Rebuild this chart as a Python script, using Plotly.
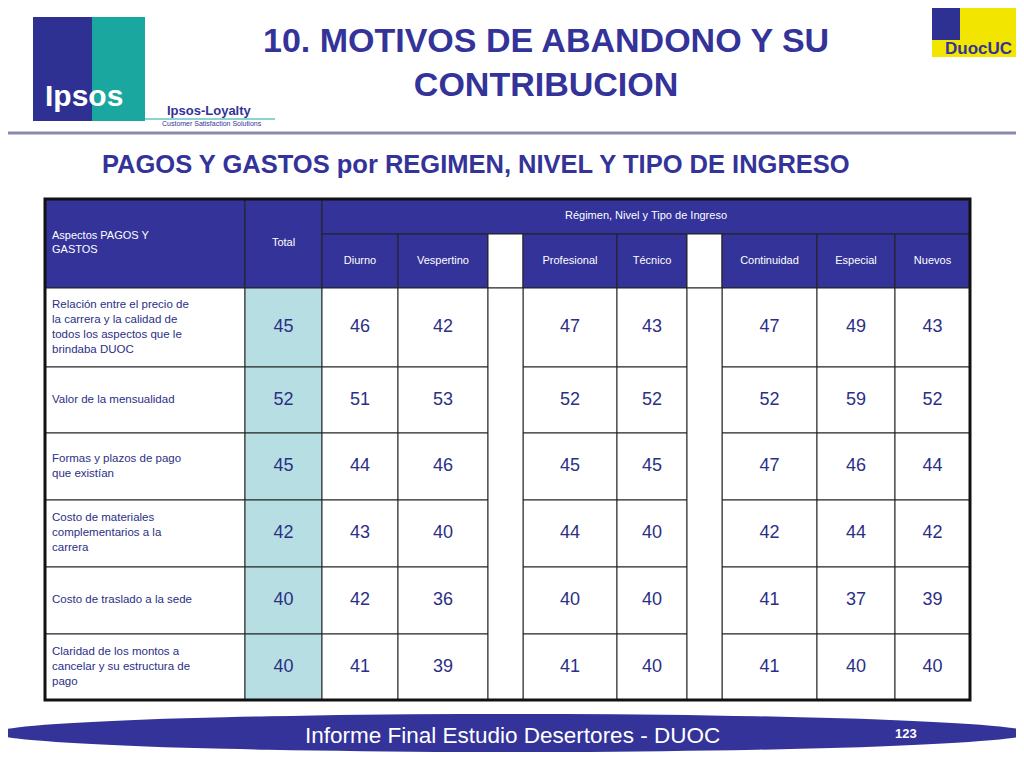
import plotly.graph_objects as go

# data
aspectos = [
    "Relación entre el precio de<br>la carrera y la calidad de<br>todos los aspectos que le<br>brindaba DUOC",
    "Valor de la mensualidad",
    "Formas y plazos de pago<br>que existían",
    "Costo de materiales<br>complementarios a la<br>carrera",
    "Costo de traslado a la sede",
    "Claridad de los montos a<br>cancelar y su estructura de<br>pago",
]
columnas = ["Total", "Diurno", "Vespertino", "", "Profesional", "Técnico", "", "Continuidad", "Especial", "Nuevos"]
total = [45, 52, 45, 42, 40, 40]
diurno = [46, 51, 44, 43, 42, 41]
vespertino = [42, 53, 46, 40, 36, 39]
profesional = [47, 52, 45, 44, 40, 41]
tecnico = [43, 52, 45, 40, 40, 40]
continuidad = [47, 52, 47, 42, 41, 41]
especial = [49, 59, 46, 44, 37, 40]
nuevos = [43, 52, 44, 42, 39, 40]
series = [total, diurno, vespertino, None, profesional, tecnico, None, continuidad, especial, nuevos]

# layout geometry (pixels)
xb = [45, 245, 322, 398, 488, 523, 617, 687, 722, 817, 895, 970]
yb = [288, 367, 433, 500, 567, 634, 700]
h_top, h_mid = 199, 234

NAVY = "#333399"
TXT = "#2b2f86"
TEAL = "#b7dfe3"

shapes = []
def rect(x0, y0, x1, y1, fill, lw=1, lc="#222"):
    shapes.append(dict(type="rect", xref="x", yref="y", x0=x0, y0=y0, x1=x1, y1=y1, layer="below",
                       fillcolor=fill, line=dict(color=lc, width=lw)))

# header
rect(xb[0], h_top, xb[1], yb[0], NAVY)
rect(xb[1], h_top, xb[2], yb[0], NAVY)
rect(xb[2], h_top, xb[-1], h_mid, NAVY)
for i, c in enumerate(columnas[1:]):
    x0, x1 = xb[i + 2], xb[i + 3]
    rect(x0, h_mid, x1, yb[0], "white" if c == "" else NAVY)

# body
for r in range(len(aspectos)):
    y0, y1 = yb[r], yb[r + 1]
    rect(xb[0], y0, xb[1], y1, "white")
    for i, c in enumerate(columnas):
        x0, x1 = xb[i + 1], xb[i + 2]
        if c == "":
            continue
        rect(x0, y0, x1, y1, TEAL if c == "Total" else "white")
# gap columns (no horizontal lines)
for i, c in enumerate(columnas):
    if c == "":
        rect(xb[i + 1], yb[0], xb[i + 2], yb[-1], "white")
# outer border
shapes.append(dict(type="rect", xref="x", yref="y", x0=xb[0], y0=h_top, x1=xb[-1], y1=yb[-1],
                   layer="below", line=dict(color="#111", width=3)))

# separator line and footer ellipse
shapes.append(dict(type="line", xref="x", yref="y", x0=0, x1=1024, y0=133, y1=133, layer="below",
                   line=dict(color="#8a8aae", width=3)))
shapes.append(dict(type="circle", xref="x", yref="y", x0=-5, x1=1030, y0=714, y1=752, layer="below",
                   fillcolor=NAVY, line=dict(width=0)))
# logos
rect(33, 17, 145, 121, "#2e3192", lw=0)
rect(92, 17, 145, 121, "#1aa7a0", lw=0)
rect(33, 80, 92, 121, "#2e3192", lw=0)
rect(932, 0, 1024, 57, "#f2e600", lw=0)
rect(932, 0, 960, 40, "#2e3192", lw=0)
shapes.append(dict(type="line", xref="x", yref="y", x0=145, x1=275, y0=119, y1=119, layer="below",
                   line=dict(color="#1aa7a0", width=1)))

fig = go.Figure()

# header text
fig.add_trace(go.Scatter(x=[52], y=[243], text=["Aspectos PAGOS Y<br>GASTOS"], mode="text",
                         textposition="middle right",
                         textfont=dict(color="white", size=11, family="Liberation Sans")))
cx, cy, ct = [(xb[1] + xb[2]) / 2, (xb[2] + xb[-1]) / 2], [243, 216], ["Total", "Régimen, Nivel y Tipo de Ingreso"]
for i, c in enumerate(columnas[1:]):
    if c:
        cx.append((xb[i + 2] + xb[i + 3]) / 2)
        cy.append(261)
        ct.append(c)
fig.add_trace(go.Scatter(x=cx, y=cy, text=ct, mode="text",
                         textfont=dict(color="white", size=11, family="Liberation Sans")))

# row labels
fig.add_trace(go.Scatter(x=[52] * len(aspectos), y=[(yb[r] + yb[r + 1]) / 2 for r in range(len(aspectos))],
                         text=aspectos, mode="text", textposition="middle right",
                         textfont=dict(color=TXT, size=11.5, family="Liberation Sans")))
# values
vx, vy, vt = [], [], []
for i, s in enumerate(series):
    if s is None:
        continue
    for r, v in enumerate(s):
        vx.append((xb[i + 1] + xb[i + 2]) / 2)
        vy.append((yb[r] + yb[r + 1]) / 2)
        vt.append(str(v))
fig.add_trace(go.Scatter(x=vx, y=vy, text=vt, mode="text",
                         textfont=dict(color=TXT, size=18, family="Liberation Sans")))

# titles and misc text
anns = [
    dict(x=546, y=62, text="<b>10. MOTIVOS DE ABANDONO Y SU<br>CONTRIBUCION</b>", font=dict(size=34, color=NAVY)),
    dict(x=476, y=164, text="<b>PAGOS Y GASTOS por REGIMEN, NIVEL Y TIPO DE INGRESO</b>", font=dict(size=25.5, color=NAVY)),
    dict(x=512, y=735, text="Informe Final Estudio Desertores - DUOC", font=dict(size=22.5, color="white")),
    dict(x=906, y=733, text="<b>123</b>", font=dict(size=13, color="white")),
    dict(x=84, y=95, text="<b>Ipsos</b>", font=dict(size=30, color="white")),
    dict(x=209, y=110, text="<b>Ipsos-Loyalty</b>", font=dict(size=13, color=NAVY)),
    dict(x=212, y=123, text="Customer Satisfaction Solutions", font=dict(size=7, color=NAVY)),
    dict(x=978, y=48, text="<b>DuocUC</b>", font=dict(size=17, color=NAVY)),
]
for a in anns:
    a.update(xref="x", yref="y", showarrow=False)
    a["font"].setdefault("family", "Liberation Sans")

# page body has an 8px margin; shift the ranges so content lands where intended
fig.update_layout(
    width=1024, height=768, margin=dict(l=0, r=0, t=0, b=0),
    paper_bgcolor="white", plot_bgcolor="white", showlegend=False,
    shapes=shapes, annotations=anns,
    xaxis=dict(range=[8, 1032], visible=False, fixedrange=True),
    yaxis=dict(range=[776, 8], visible=False, fixedrange=True),
)
fig.write_html("out.html")
